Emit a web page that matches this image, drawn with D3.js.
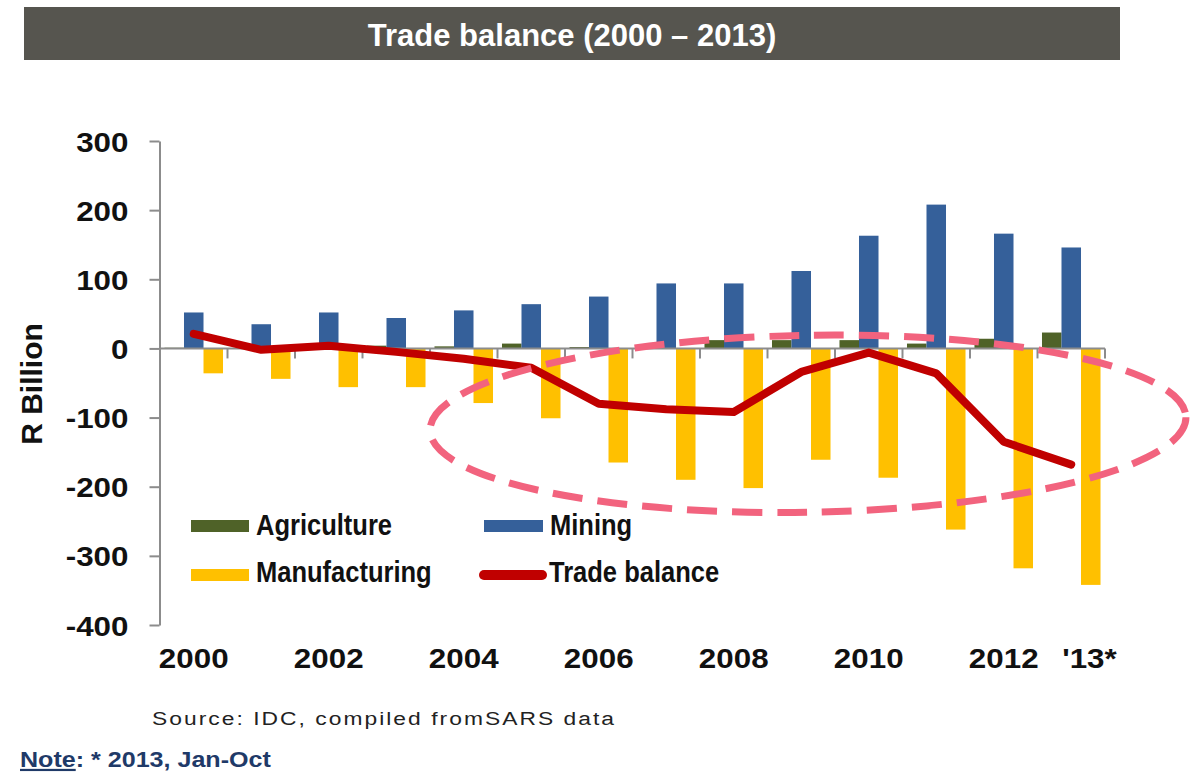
<!DOCTYPE html>
<html>
<head>
<meta charset="utf-8">
<script src="https://cdn.jsdelivr.net/npm/d3@7"></script>
<style>
  html, body { margin: 0; padding: 0; background: #fff; }
  svg { display: block; font-family: "Liberation Sans", Arial, sans-serif; }
</style>
</head>
<body>
<svg id="chart" width="1202" height="772"></svg>
<script>
// ---- data (R billion) ----
const years = ["2000","2001","2002","2003","2004","2005","2006","2007","2008","2009","2010","2011","2012","2013"];
const yearLabels = ["2000","","2002","","2004","","2006","","2008","","2010","","2012","'13*"];
const agriculture   = [1, 0, 1, 4, 3, 7, 2, 1, 12, 12, 12, 7, 14, 23];
const mining        = [52, 35, 52, 44, 55, 64, 75, 94, 94, 112, 163, 208, 166, 146];
const manufacturing = [-36, -44, -56, -56, -79, -101, -165, -190, -202, -161, -187, -262, -318, -342];
const tradeBalance  = [21, -2, 4, -5, -15, -28, -80, -88, -92, -34, -6, -36, -135, -168];
const yTicks = [300, 200, 100, 0, -100, -200, -300, -400];

const seriesNames = ["Agriculture", "Mining", "Manufacturing"];
const seriesValues = [agriculture, mining, manufacturing];
const colors = { Agriculture: "#4F6228", Mining: "#35609A", Manufacturing: "#FFC000", line: "#C00000" };

const svg = d3.select("#chart");

// ---- title band ----
svg.append("rect").attr("x", 24).attr("y", 7).attr("width", 1096).attr("height", 53).attr("fill", "#56554F");
svg.append("text").attr("x", 572).attr("y", 46).attr("text-anchor", "middle")
  .attr("font-size", 31).attr("font-weight", "bold").attr("fill", "#fff")
  .text("Trade balance (2000 \u2013 2013)");

// ---- scales ----
const x = d3.scaleBand().domain(years).range([160, 1105]).paddingInner(0).paddingOuter(0);
const x1 = d3.scaleBand().domain(seriesNames).range([0, x.bandwidth()]).paddingInner(0).paddingOuter(0.23);
const y = d3.scaleLinear().domain([-400, 300]).range([625, 141]);

const axisColor = "#8C8C8C";
const sx = 1.12; // horizontal stretch of the chart lettering

// ---- bars ----
const barData = [];
years.forEach((yr, i) => seriesNames.forEach((s, k) => barData.push({ yr, s, v: seriesValues[k][i] })));
svg.append("g").selectAll("rect").data(barData).join("rect")
  .attr("x", d => x(d.yr) + x1(d.s))
  .attr("width", x1.bandwidth())
  .attr("y", d => y(Math.max(0, d.v)))
  .attr("height", d => Math.abs(y(d.v) - y(0)))
  .attr("fill", d => colors[d.s]);

// ---- y axis ----
const yAxis = svg.append("g").attr("transform", "translate(159.5,0)")
  .call(d3.axisLeft(y).tickValues(yTicks).tickSize(10).tickSizeOuter(0).tickFormat(d => String(d)));
yAxis.select(".domain").attr("stroke", axisColor).attr("stroke-width", 2);
yAxis.selectAll(".tick line").attr("stroke", axisColor).attr("stroke-width", 2);
yAxis.selectAll(".tick text")
  .attr("x", null).attr("dy", null)
  .attr("transform", `translate(-31,10) scale(${sx},1)`)
  .attr("font-size", 28).attr("font-weight", "bold").attr("fill", "#111")
  .attr("font-family", "Liberation Sans, Arial, sans-serif");

// ---- zero line with category boundary ticks ----
const zero = svg.append("g");
zero.append("line").attr("x1", x.range()[0]).attr("x2", x.range()[1])
  .attr("y1", y(0)).attr("y2", y(0)).attr("stroke", axisColor).attr("stroke-width", 2);
zero.selectAll("line.tk").data(years).join("line").attr("class", "tk")
  .attr("x1", d => x(d) + x.bandwidth()).attr("x2", d => x(d) + x.bandwidth())
  .attr("y1", y(0)).attr("y2", y(0) + 10)
  .attr("stroke", axisColor).attr("stroke-width", 2);

// ---- category labels along the bottom ----
const xAxis = svg.append("g").attr("transform", `translate(0,${y(-400)})`)
  .call(d3.axisBottom(x).tickSize(0).tickFormat((d, i) => yearLabels[i]));
xAxis.select(".domain").remove();
xAxis.selectAll(".tick text")
  .attr("y", null).attr("dy", null)
  .attr("transform", (d, i) => `translate(${i === years.length - 1 ? x.bandwidth() * 0.27 : 0},43) scale(${sx},1)`)
  .attr("font-size", 28).attr("font-weight", "bold").attr("fill", "#111")
  .attr("font-family", "Liberation Sans, Arial, sans-serif");

// ---- trade balance line ----
const line = d3.line().x((d, i) => x(years[i]) + x.bandwidth() / 2).y(d => y(d));
svg.append("path").datum(tradeBalance).attr("d", line)
  .attr("fill", "none").attr("stroke", colors.line).attr("stroke-width", 8)
  .attr("stroke-linejoin", "round").attr("stroke-linecap", "round");

// ---- y axis title ----
svg.append("text").attr("transform", "translate(42,384) rotate(-90)")
  .attr("text-anchor", "middle").attr("font-size", 30).attr("font-weight", "bold").attr("fill", "#111")
  .text("R Billion");

// ---- legend ----
const lg = svg.append("g");
const legendItems = [
  { name: "Agriculture",   kind: "bar",  sx: 191, sw: 58, ty: 535, cy: 526 },
  { name: "Mining",        kind: "bar",  sx: 484, sw: 59, ty: 535, cy: 526 },
  { name: "Manufacturing", kind: "bar",  sx: 191, sw: 58, ty: 582, cy: 575 },
  { name: "Trade balance", kind: "line", sx: 484, sw: 58, ty: 582, cy: 575 }
];
legendItems.forEach(it => {
  if (it.kind === "bar") {
    lg.append("rect").attr("x", it.sx).attr("y", it.cy - 6).attr("width", it.sw).attr("height", 12)
      .attr("fill", colors[it.name]);
  } else {
    lg.append("line").attr("x1", it.sx).attr("x2", it.sx + it.sw).attr("y1", it.cy).attr("y2", it.cy)
      .attr("stroke", colors.line).attr("stroke-width", 10).attr("stroke-linecap", "round");
  }
  lg.append("text").attr("transform", `translate(${it.sx + it.sw + 7},${it.ty}) scale(0.88,1)`)
    .attr("font-size", 29).attr("font-weight", "bold").attr("fill", "#111").text(it.name);
});

// ---- dashed highlight ring around 2004-2013 ----
const ring = { fromIndex: 4, toIndex: 15.2, top: 19, bottom: -237, tilt: -1 };
const x0 = x.range()[0], step = x.step();
const rcx = x0 + (ring.fromIndex + ring.toIndex) / 2 * step;
const rrx = (ring.toIndex - ring.fromIndex) / 2 * step;
const rcy = (y(ring.top) + y(ring.bottom)) / 2;
const rry = (y(ring.bottom) - y(ring.top)) / 2;
svg.append("ellipse")
  .attr("cx", rcx).attr("cy", rcy).attr("rx", rrx).attr("ry", rry)
  .attr("transform", `rotate(${ring.tilt},${rcx},${rcy})`)
  .attr("fill", "none").attr("stroke", "#F2637E").attr("stroke-width", 7)
  .attr("stroke-dasharray", "30 15");

// ---- footnotes ----
svg.append("text").attr("transform", "translate(152,725) scale(1.2,1)")
  .attr("font-size", 19).attr("fill", "#222")
  .attr("textLength", 385).attr("lengthAdjust", "spacing")
  .text("Source: IDC,  compiled fromSARS data");

const note = svg.append("text").attr("transform", "translate(20,767) scale(1.14,1)")
  .attr("font-size", 22).attr("font-weight", "bold").attr("fill", "#1F3A68");
note.append("tspan").attr("text-decoration", "underline").text("Note");
note.append("tspan").text(": * 2013, Jan-Oct");
</script>
</body>
</html>
